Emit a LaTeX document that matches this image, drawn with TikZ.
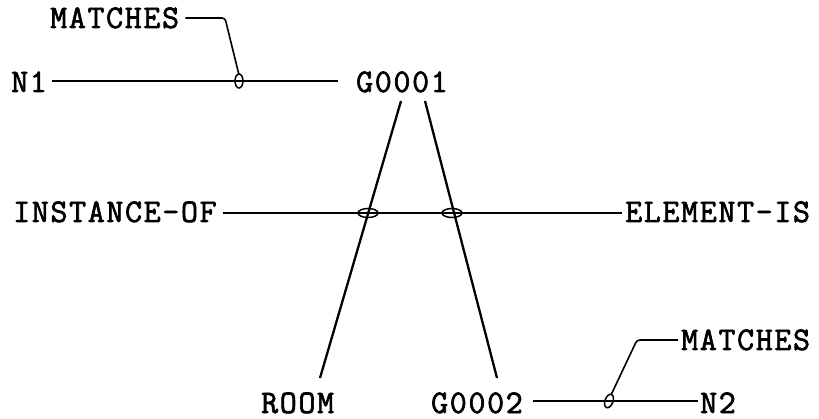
\documentclass[tikz,border=0pt]{standalone}
\usepackage{fontspec}
\setmonofont{Latin Modern Mono}[FakeBold=2,LetterSpace=5]
\usetikzlibrary{calc}
\begin{document}
\begin{tikzpicture}[x=1pt,y=-1pt,
  lbl/.style={inner sep=0pt,font=\fontsize{33}{35}\selectfont\ttfamily},
  conn/.style={line width=1.6pt},
  leg/.style={line width=2.3pt},
  ring/.style={line width=1.5pt}]
\useasboundingbox (0,0) rectangle (819,419);
% text nodes
\node[lbl,anchor=base west] (m1) at (50,28) {MATCHES};
\node[lbl,anchor=base west] (n1) at (11,92) {N1};
\node[lbl,anchor=base west] (g1) at (356,92) {G0001};
\node[lbl,anchor=base west] (inst) at (13,222) {INSTANCE-OF};
\node[lbl,anchor=base west] (elem) at (625,222) {ELEMENT-IS};
\node[lbl,anchor=base west] (m2) at (681,350) {MATCHES};
\node[lbl,anchor=base west] (room) at (261,413) {ROOM};
\node[lbl,anchor=base west] (g2) at (431,413) {G0002};
\node[lbl,anchor=base west] (n2) at (700,413) {N2};
% helper coordinates
\coordinate (e1) at (239,81);
\coordinate (e2) at (368,213);
\coordinate (e3) at (452,213);
\coordinate (e4) at (609,401);
\coordinate (k1) at (225,18);
\coordinate (k2) at (637,340);
\coordinate (t1) at (401,101);
\coordinate (t2) at (425,101);
\coordinate (b1) at (320,378);
\coordinate (b2) at (497,378);
% horizontal connectors
\draw[conn] ($(n1.east|-e1)+(5,0)$) -- ($(g1.west|-e1)+(-18,0)$);
\draw[conn] ($(inst.east|-e2)+(6,0)$) -- ($(elem.west|-e2)+(-3,0)$);
\draw[conn] ($(g2.east|-e4)+(10,0)$) -- ($(n2.west|-e4)+(-2,0)$);
% label leaders
\draw[conn,rounded corners=3pt] ($(m1.east|-k1)+(6,0)$) -- (k1) -- ($(e1)+(0,-6)$);
\draw[conn,rounded corners=3pt] ($(m2.west|-k2)+(-3,0)$) -- (k2) -- ($(e4)+(2,-6)$);
% legs
\draw[leg] (t1) -- (b1);
\draw[leg] (t2) -- (b2);
% rings
\draw[ring] (e1) ellipse [x radius=4pt, y radius=7pt];
\draw[ring] (e2) ellipse [x radius=10pt, y radius=4.5pt];
\draw[ring] (e3) ellipse [x radius=10pt, y radius=4.5pt];
\draw[ring,rotate around={-20:(e4)}] (e4) ellipse [x radius=4pt, y radius=7pt];
\end{tikzpicture}
\end{document}
